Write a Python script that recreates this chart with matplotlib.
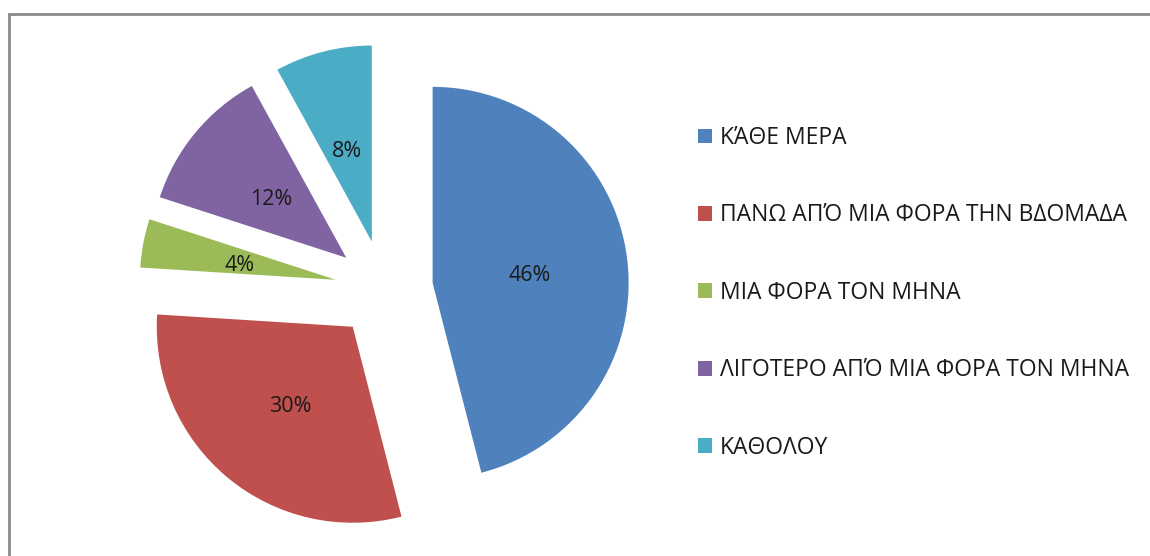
import matplotlib
matplotlib.use("Agg")
import matplotlib.pyplot as plt
import matplotlib.patches as patches

plt.rcParams['font.family'] = ['Open Sans', 'DejaVu Sans']

# ── Data ──────────────────────────────────────────────────────────────────────
categories = [
    "ΚΆΘΕ ΜΕΡΑ",
    "ΠΑΝΩ ΑΠΌ ΜΙΑ ΦΟΡΑ ΤΗΝ ΒΔΟΜΑΔΑ",
    "ΜΙΑ ΦΟΡΑ ΤΟΝ ΜΗΝΑ",
    "ΛΙΓΟΤΕΡΟ ΑΠΌ ΜΙΑ ΦΟΡΑ ΤΟΝ ΜΗΝΑ",
    "ΚΑΘΟΛΟΥ",
]
shares = [46, 30, 4, 12, 8]
colors = ["#4F81BD", "#C0504D", "#9BBB59", "#8064A2", "#4BACC6"]

W, H = 1150, 556
fig = plt.figure(figsize=(W / 100, H / 100), dpi=100)
fig.patch.set_facecolor("white")

# axes in pixel units so the pie can be placed exactly
ax = fig.add_axes([0, 0, 1, 1])
wedges, _, autotexts = ax.pie(
    shares,
    colors=colors,
    explode=[49] * len(shares),      # pie explode is in data units here (px)
    startangle=90,
    counterclock=False,
    radius=196,
    center=(384, H - 289),
    autopct=lambda p: f"{round(p):d}%",
    pctdistance=0.5,
    wedgeprops=dict(linewidth=0),
    textprops=dict(color="#1a1a1a", fontsize=15.5),
)
for t in autotexts:
    t.set_va("center_baseline")
    t.set_y(t.get_position()[1] - 2)
ax.set_xlim(0, W)
ax.set_ylim(0, H)
ax.set_aspect("equal")
ax.axis("off")

# chart border (cut off at right and bottom like the original screenshot)
frame = patches.Rectangle((9 / W, -0.1), 1.2, (H - 14) / H + 0.1,
                          transform=fig.transFigure, fill=False,
                          edgecolor="#8a8a8a", linewidth=2, clip_on=False)
fig.patches.append(frame)

fig.legend(wedges, categories,
           loc="upper left", bbox_to_anchor=(698 / W, 1 - 126 / H),
           frameon=False, borderpad=0, borderaxespad=0,
           handlelength=0.62, handleheight=0.62, handletextpad=0.35,
           labelspacing=2.33, fontsize=16.5, labelcolor="#1a1a1a")

fig.savefig("out.png", dpi=100, facecolor="white")
